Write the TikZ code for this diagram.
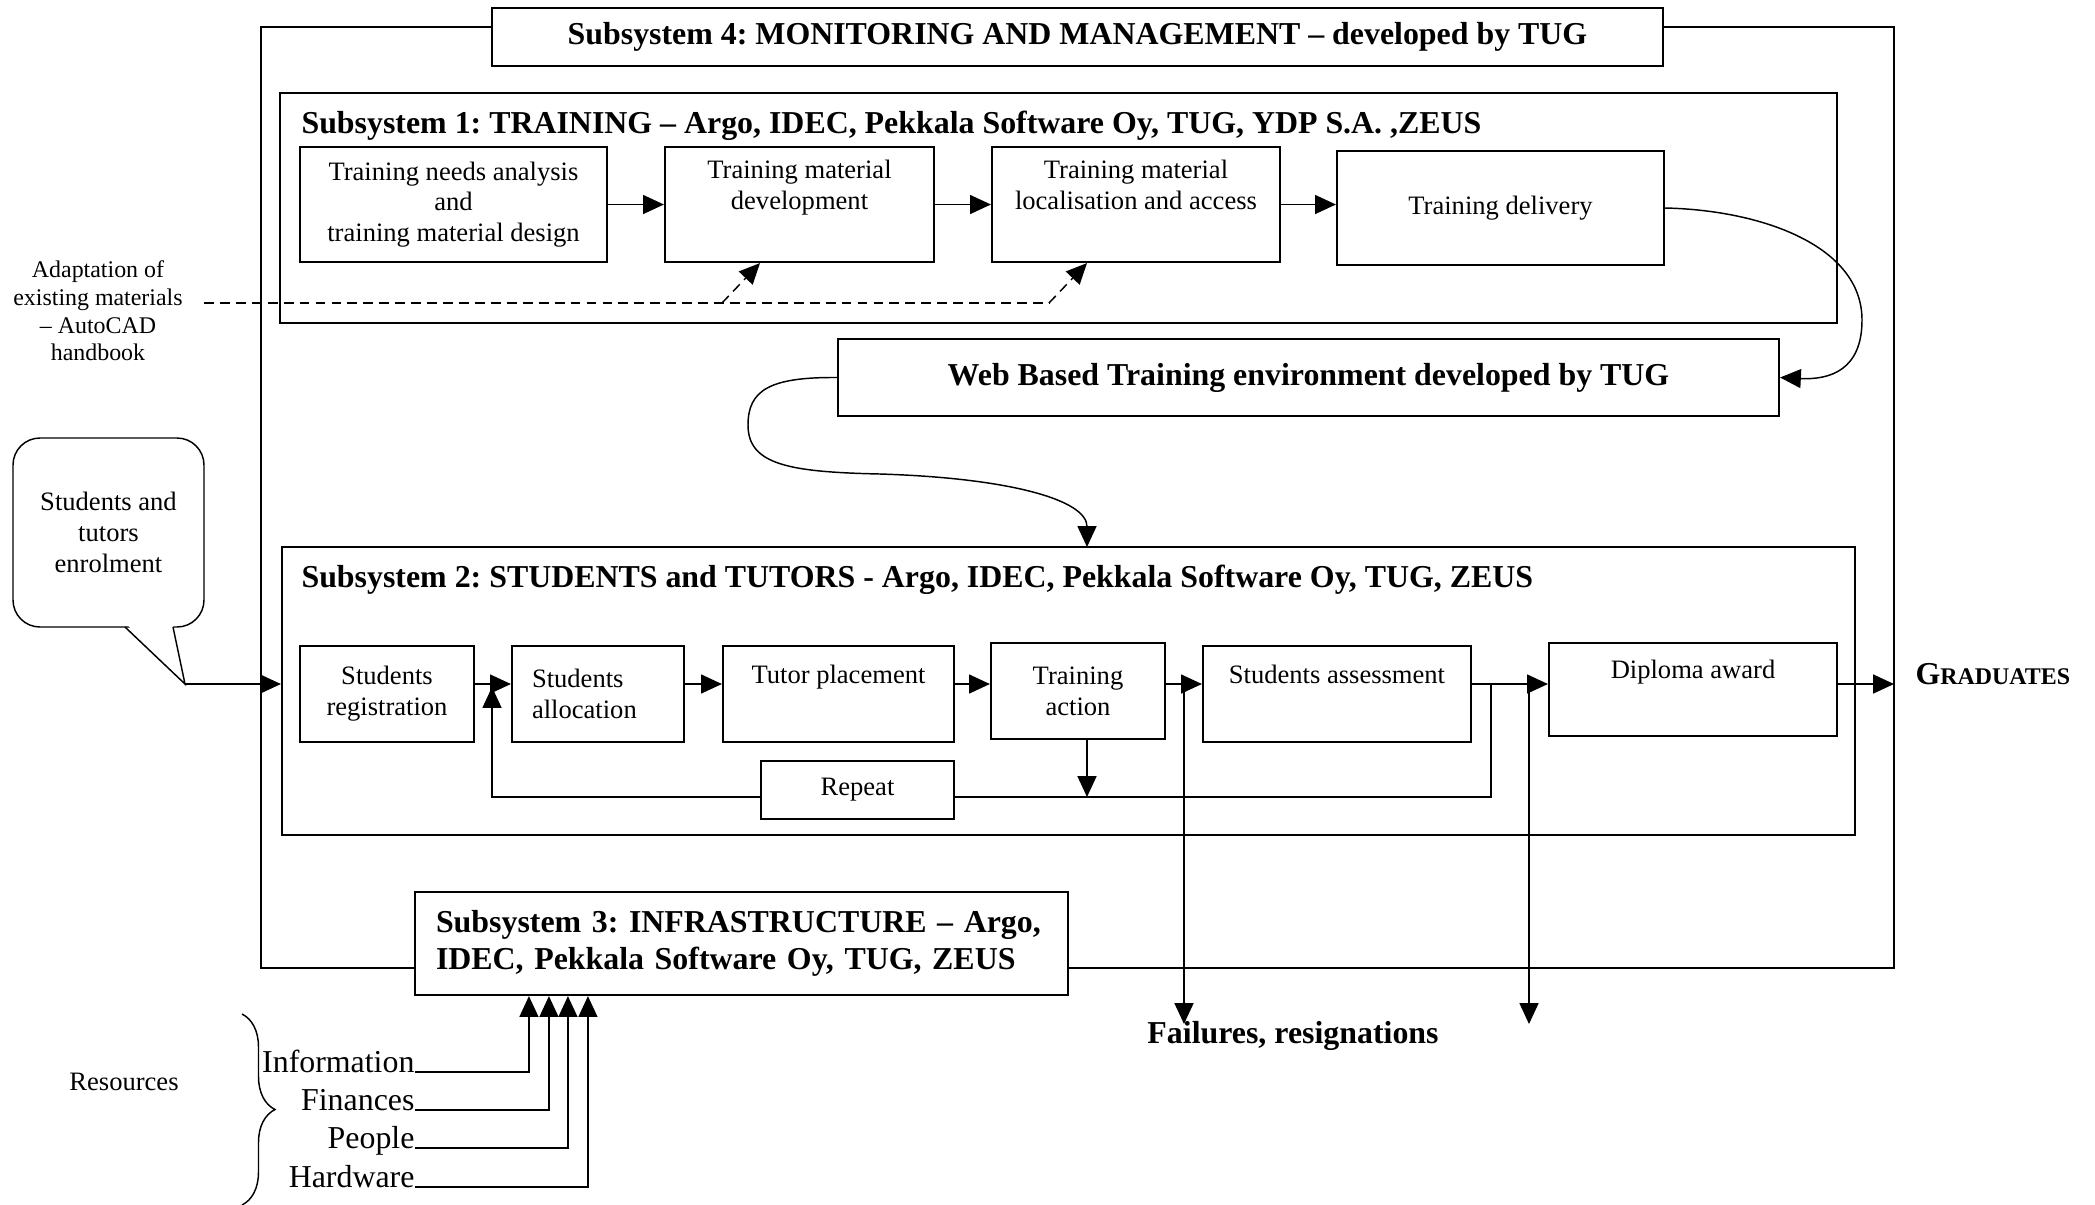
\documentclass[tikz,border=0pt]{standalone}
\usepackage{fontspec}
\setmainfont{Liberation Serif}
\usepackage{tikz}
\usetikzlibrary{arrows.meta}
\usetikzlibrary{calc}
\usetikzlibrary{decorations.pathreplacing}
\frenchspacing

% one pixel of the layout grid
\newlength{\pix}
\setlength{\pix}{0.1323mm}
\newcommand{\headfont}{\fontsize{12}{14}\selectfont\bfseries}
\newcommand{\boxfont}{\fontsize{10}{11.6}\selectfont}

\begin{document}
\begin{tikzpicture}[x=0.1323mm, y=-0.1323mm,
    sysbox/.style={draw, line width=0.8pt, inner sep=0pt},
    stepbox/.style={draw, line width=0.8pt, fill=white, inner sep=0pt, align=center, font=\boxfont},
    headline/.style={anchor=base west, inner sep=0pt, font=\headfont},
    link/.style={line width=0.55pt},
    arr/.style={link, -{Triangle[length=2.75mm,width=2.5mm]}},
    dashlink/.style={link, dash pattern=on 3.7pt off 2.3pt},
    dasharr/.style={arr, dash pattern=on 3.7pt off 2.3pt},
    resource/.style={anchor=base east, inner sep=0pt, font=\fontsize{12}{14}\selectfont}]

    \useasboundingbox (0,0) rectangle (2095,1204);

    %--- SUBSYSTEM 4 FRAME ------------------
    
    \draw [line width=0.7pt] (261,27) rectangle (1894,968);
    \node [stepbox, font=\headfont, minimum width=1171\pix, minimum height=58\pix] (sysfour) at (1077.5,37)
        {Subsystem 4: MONITORING AND MANAGEMENT -- developed by TUG};

    %--- SUBSYSTEM 1 ------------------------
    
    \node [sysbox, minimum width=1557\pix, minimum height=230\pix] (sysone) at (1058.5,208) {};
    \node [headline] (sysonehead) at (301,133)
        {Subsystem 1: TRAINING -- Argo, IDEC, Pekkala Software Oy, TUG, YDP S.A. ,ZEUS};

    % Steps
    \node [stepbox, minimum width=307\pix, minimum height=115\pix] (needs) at (453.5,204.5)
        {Training needs analysis\\and\\training material design};
    \node [stepbox, minimum width=269\pix, minimum height=115\pix] (develop) at (799.5,204.5)
        {Training material\\development\\\strut};
    \node [stepbox, minimum width=288\pix, minimum height=115\pix] (local) at (1136,204.5)
        {Training material\\localisation and access\\\strut};
    \node [stepbox, minimum width=327\pix, minimum height=114\pix] (deliver) at (1500.5,208)
        {Training delivery};

    \draw [arr] (needs) -- (develop);
    \draw [arr] (develop) -- (local);
    \draw [arr] (local.east) -- (local.east -| deliver.west);

    % Adaptation of existing materials
    \node [align=center, font=\fontsize{9}{10.4}\selectfont] (adapt) at (98,311)
        {Adaptation of\\existing materials\\-- AutoCAD\\handbook};
    \coordinate (dashin) at (204,303);
    \coordinate (devtap) at (722,303);
    \coordinate (loctap) at (1049,303);
    \draw [dashlink] (dashin) -- (loctap);
    \draw [dasharr] (devtap) -- ([xshift=-39.5\pix]develop.south);
    \draw [dasharr] (loctap) -- ([xshift=-49\pix]local.south);

    %--- WEB BASED TRAINING -----------------
    
    \node [stepbox, font=\headfont, minimum width=941\pix, minimum height=77\pix] (wbt) at (1308.5,377.5)
        {Web Based Training environment developed by TUG};

    % Curves
    \coordinate (wbtin) at ([xshift=18.5\pix]1068.5,547);
    \draw [arr] (deliver.east) .. controls (1760,210) and (1862,245) .. (1862,320)
        .. controls (1862,370) and (1830,380) .. (wbt.east);
    \draw [arr] (wbt.west) .. controls (770,377) and (748,390) .. (748,425)
        .. controls (748,465) and (790,472) .. (880,474)
        .. controls (1010,478) and (1087,500) .. (wbtin);

    %--- SUBSYSTEM 2 ------------------------
    
    \node [sysbox, minimum width=1573\pix, minimum height=288\pix] (systwo) at (1068.5,691) {};
    \node [headline] (systwohead) at (301,587)
        {Subsystem 2: STUDENTS and TUTORS - Argo, IDEC, Pekkala Software Oy, TUG, ZEUS};

    % Steps
    \node [stepbox, minimum width=174\pix, minimum height=96\pix] (reg) at (387,694)
        {Students\\registration};
    \node [stepbox, align=left, text width=132\pix, minimum width=172\pix, minimum height=96\pix] (alloc) at (598,694)
        {Students\\allocation};
    \node [stepbox, minimum width=231\pix, minimum height=96\pix] (tutor) at (838.5,694)
        {Tutor placement\\\strut};
    \node [stepbox, minimum width=174\pix, minimum height=96\pix] (act) at (1078,691)
        {Training\\action};
    \node [stepbox, minimum width=268\pix, minimum height=96\pix] (assess) at (1337,694)
        {Students assessment\\\strut};
    \node [stepbox, minimum width=288\pix, minimum height=93\pix] (diploma) at (1693,689.5)
        {Diploma award\\\strut};
    \node [stepbox, minimum width=193\pix, minimum height=58\pix] (repeat) at (857.5,790)
        {Repeat};

    % Flow line and loop levels
    \coordinate (flow) at (0,684);
    \coordinate (loop) at (0,797);
    \coordinate (backtip) at (492,687);
    \coordinate (split) at (1491,684);
    \coordinate (actout) at ([xshift=9\pix]act.south);

    \draw [arr] (reg.east |- flow) -- (alloc.west |- flow);
    \draw [arr] (alloc.east |- flow) -- (tutor.west |- flow);
    \draw [arr] (tutor.east |- flow) -- (act.west |- flow);
    \draw [arr] (act.east |- flow) -- (assess.west |- flow);
    \draw [arr] (assess.east |- flow) -- (diploma.west |- flow);

    % Repeat loop
    \draw [arr] (repeat.west |- loop) -| (backtip);
    \draw [link] (repeat.east |- loop) -| (split);
    \draw [arr] (actout) -- (actout |- loop);

    % Graduates
    \node [anchor=base west, inner sep=0pt, font=\headfont] (grad) at (1915,684)
        {G{\fontsize{9}{11}\selectfont RADUATES}};
    \draw [arr] (diploma.east |- flow) -- ([xshift=-21\pix]grad.base west);

    % Failures, resignations
    \coordinate (failout) at (1184,684);
    \coordinate (failtip) at (1184,1024);
    \coordinate (dropout) at (1529,684);
    \coordinate (droptip) at (1529,1024);
    \draw [arr] (failout) -- (failtip);
    \draw [arr] (dropout) -- (droptip);
    \node [anchor=base, inner sep=0pt, font=\headfont] (fail) at (1293,1043) {Failures, resignations};

    %--- ENROLMENT --------------------------
    
    \node [draw, link, rounded corners=27\pix, align=center, font=\boxfont,
        minimum width=191\pix, minimum height=189\pix] (enrol) at (108.5,532.5)
        {Students and\\tutors\\enrolment};
    \coordinate (enroltip) at (185,684);
    \fill [white] (125.5,623) -- (enroltip) -- (172.5,623) -- cycle;
    \draw [link] (125,627) -- (enroltip) -- (173,627);
    \draw [arr] (enroltip) -- (systwo.west |- flow);

    %--- SUBSYSTEM 3 ------------------------
    
    \node [stepbox, font=\headfont, align=left, text width=611\pix, inner xsep=21\pix,
        minimum height=103\pix] (systhree) at (741.5,943.5)
        {Subsystem 3: INFRASTRUCTURE -- Argo,\\IDEC, Pekkala Software Oy, TUG, ZEUS};

    % Resources
    \node [resource] (info) at (415,1072) {Information};
    \node [resource] (money) at (415,1110) {Finances};
    \node [resource] (people) at (415,1148) {People};
    \node [resource] (hard) at (415,1187) {Hardware};

    \draw [arr] (info.base east) -| ([xshift=115\pix]systhree.south west);
    \draw [arr] (money.base east) -| ([xshift=135\pix]systhree.south west);
    \draw [arr] (people.base east) -| ([xshift=154\pix]systhree.south west);
    \draw [arr] (hard.base east) -| ([xshift=174\pix]systhree.south west);

    \draw [link, decorate, decoration={brace, amplitude=33\pix}] (242,1014) -- (242,1205);
    \node [font=\boxfont] (resources) at (124,1082) {Resources};

\end{tikzpicture}
\end{document}
